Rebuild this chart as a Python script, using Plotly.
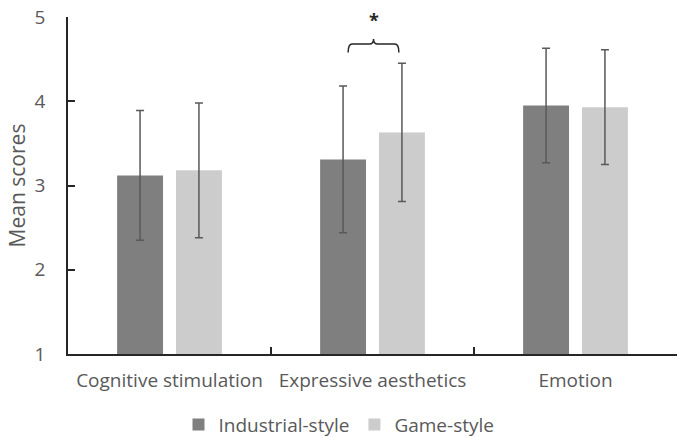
import plotly.graph_objects as go

categories = ["Cognitive stimulation", "Expressive aesthetics", "Emotion"]
industrial_mean = [3.12, 3.31, 3.95]
industrial_sd = [0.77, 0.87, 0.68]
game_mean = [3.18, 3.63, 3.93]
game_sd = [0.80, 0.82, 0.68]
series_names = ["Industrial-style", "Game-style"]
y_ticks = [1, 2, 3, 4, 5]

FONT = "Open Sans"
TXT = "#595959"
ERR = "#595959"
FS = 19

fig = go.Figure()
fig.add_trace(go.Bar(
    name=series_names[0], x=categories, y=industrial_mean,
    marker=dict(color="#7f7f7f", line=dict(width=0)),
    error_y=dict(type="data", array=industrial_sd, color=ERR, thickness=1.5, width=4),
))
fig.add_trace(go.Bar(
    name=series_names[1], x=categories, y=game_mean,
    marker=dict(color="#cccccc", line=dict(width=0)),
    error_y=dict(type="data", array=game_sd, color=ERR, thickness=1.5, width=4),
))

# significance bracket over "Expressive aesthetics"
ci = 1
x0, x1, xm = ci - 0.12, ci + 0.13, ci + 0.005
y_end, y_h, y_pk = 4.58, 4.68, 4.74
r = 0.02
path = (f"M {x0},{y_end} Q {x0},{y_h} {x0 + r},{y_h} L {xm - r},{y_h} "
        f"Q {xm},{y_h} {xm},{y_pk} Q {xm},{y_h} {xm + r},{y_h} "
        f"L {x1 - r},{y_h} Q {x1},{y_h} {x1},{y_end}")
fig.add_shape(type="path", path=path, xref="x", yref="y",
              line=dict(color="#262626", width=1.5))
fig.add_annotation(x=xm, y=4.97, xref="x", yref="y", text="<b>*</b>",
                   showarrow=False, font=dict(family=FONT, size=18, color="#262626"))

fig.update_layout(
    width=677, height=437,
    margin=dict(l=68, r=0, t=17, b=83, autoexpand=False),
    paper_bgcolor="white", plot_bgcolor="white",
    barmode="group", bargap=0.42, bargroupgap=0.22,
    font=dict(family=FONT, size=FS, color=TXT),
    showlegend=True,
    legend=dict(orientation="h", x=0.445, xanchor="center", y=-0.21, yanchor="middle",
                font=dict(family=FONT, size=FS, color=TXT),
                traceorder="normal"),
    xaxis=dict(type="category", showline=True, linecolor="#262626", linewidth=1.5,
               ticks="inside", tickson="boundaries", ticklen=7, tickcolor="#262626",
               tickwidth=1.5, showgrid=False, zeroline=False, automargin=False,
               ticklabelstandoff=8,
               tickfont=dict(family=FONT, size=FS, color=TXT)),
    yaxis=dict(range=[1, 5], tickvals=y_ticks, showline=True, linecolor="#262626",
               linewidth=1.5, ticks="inside", ticklen=7, tickcolor="#262626", tickwidth=1.5,
               showgrid=False, zeroline=False, ticklabelstandoff=17, automargin=False,
               title=dict(text="Mean scores", font=dict(family=FONT, size=21, color=TXT), standoff=3),
               tickfont=dict(family=FONT, size=FS, color=TXT)),
)

fig.write_html("out.html", config={"displayModeBar": False},
               post_script="document.body.style.margin='0';")
